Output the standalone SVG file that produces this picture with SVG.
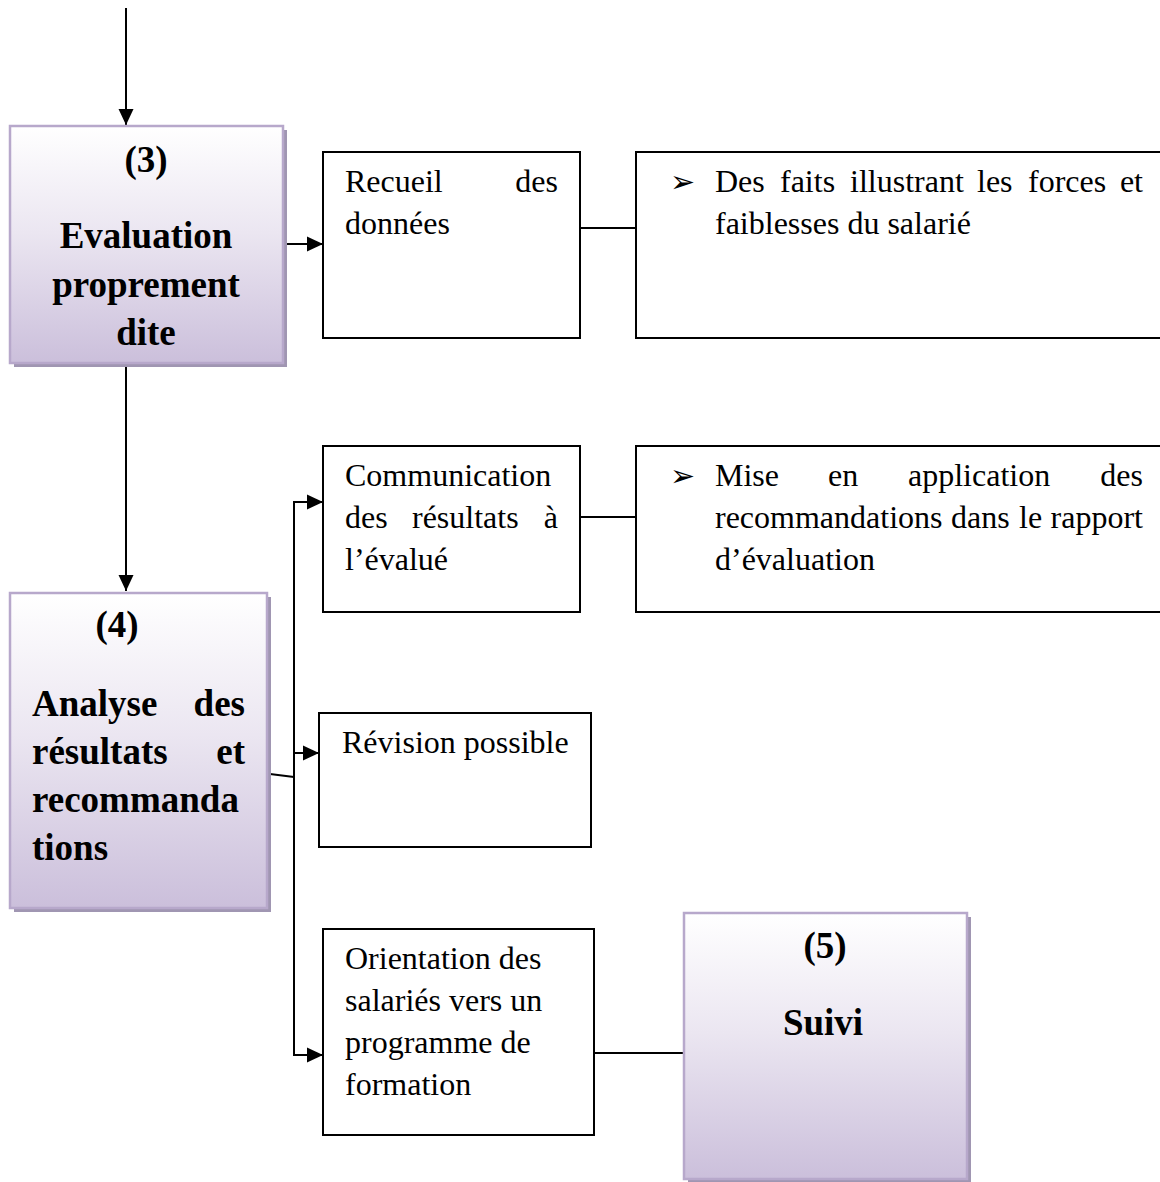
<svg xmlns="http://www.w3.org/2000/svg" width="1160" height="1182" viewBox="0 0 1160 1182">
<style>
.reg{font-family:"Liberation Serif","Times New Roman",serif;font-size:32px;fill:#000}
.bold{font-family:"Liberation Serif","Times New Roman",serif;font-size:37px;font-weight:bold;fill:#000}
.bul{font-family:"DejaVu Sans",sans-serif;font-size:30px;fill:#000}
.box{fill:#fff;stroke:#000;stroke-width:2}
.pbox{fill:url(#pg);stroke:#b7a8cb;stroke-width:2.5}
.shadow{fill:#a096b2}
.con{fill:none;stroke:#000;stroke-width:2}
.arr{fill:none;stroke:#000;stroke-width:2;marker-end:url(#ah)}
</style>
<defs>
<linearGradient id="pg" x1="0" y1="0" x2="0" y2="1">
<stop offset="0" stop-color="#ffffff"/>
<stop offset="0.45" stop-color="#ebe6f1"/>
<stop offset="1" stop-color="#cbbfdb"/>
</linearGradient>
<marker id="ah" markerUnits="userSpaceOnUse" viewBox="0 0 18 18" markerWidth="18" markerHeight="18" refX="17" refY="9" orient="auto" overflow="visible">
<path d="M1,1.5 L17,9 L1,16.5 Z" fill="#000"/>
</marker>
</defs>
<rect width="1160" height="1182" fill="#fff"/>

<g id="connectors">
<line class="arr" x1="126" y1="8" x2="126" y2="125"/>
<line class="arr" x1="126" y1="367" x2="126" y2="591"/>
<line class="arr" x1="286" y1="244" x2="323" y2="244"/>
<line class="con" x1="580" y1="228" x2="636" y2="228"/>
<line class="con" x1="580" y1="517" x2="636" y2="517"/>
<line class="con" x1="270" y1="774" x2="294" y2="777"/>
<line class="con" x1="294" y1="501" x2="294" y2="1056"/>
<line class="arr" x1="293" y1="502" x2="323" y2="502"/>
<line class="arr" x1="293" y1="753" x2="319" y2="753"/>
<line class="arr" x1="293" y1="1055" x2="323" y2="1055"/>
<line class="con" x1="594" y1="1053" x2="684" y2="1053"/>
</g>

<g id="node-evaluation">
<rect class="shadow" x="14" y="130" width="273" height="237"/>
<rect class="pbox" x="10" y="126" width="273" height="237"/>
<text class="bold" x="146" y="172" text-anchor="middle">(3)</text>
<text class="bold" x="146" y="248" text-anchor="middle">Evaluation</text>
<text class="bold" x="146" y="297" text-anchor="middle">proprement</text>
<text class="bold" x="146" y="345" text-anchor="middle">dite</text>
</g>

<g id="node-analyse">
<rect class="shadow" x="14" y="597" width="257" height="315"/>
<rect class="pbox" x="10" y="593" width="257" height="315"/>
<text class="bold" x="117" y="637" text-anchor="middle">(4)</text>
<text class="bold" x="32" y="716">Analyse</text>
<text class="bold" x="245" y="716" text-anchor="end">des</text>
<text class="bold" x="32" y="764">résultats</text>
<text class="bold" x="245" y="764" text-anchor="end">et</text>
<text class="bold" x="32" y="812">recommanda</text>
<text class="bold" x="32" y="860">tions</text>
</g>

<g id="node-suivi">
<rect class="shadow" x="688" y="917" width="283" height="270"/>
<rect class="pbox" x="684" y="913" width="283" height="266"/>
<text class="bold" x="825" y="958" text-anchor="middle">(5)</text>
<text class="bold" x="823" y="1035" text-anchor="middle">Suivi</text>
</g>

<g id="node-recueil">
<rect class="box" x="323" y="152" width="257" height="186"/>
<text class="reg" x="345" y="192">Recueil</text>
<text class="reg" x="558" y="192" text-anchor="end">des</text>
<text class="reg" x="345" y="234">données</text>
</g>

<g id="node-faits">
<rect class="box" x="636" y="152" width="540" height="186"/>
<text class="bul" x="670" y="192">➢</text>
<text class="reg" y="192"><tspan x="715">Des</tspan><tspan x="780">faits</tspan><tspan x="850">illustrant</tspan><tspan x="977">les</tspan><tspan x="1028">forces</tspan></text>
<text class="reg" x="1143" y="192" text-anchor="end">et</text>
<text class="reg" x="715" y="234">faiblesses du salarié</text>
</g>

<g id="node-communication">
<rect class="box" x="323" y="446" width="257" height="166"/>
<text class="reg" x="345" y="486">Communication</text>
<text class="reg" y="528"><tspan x="345">des</tspan><tspan x="412">résultats</tspan></text>
<text class="reg" x="558" y="528" text-anchor="end">à</text>
<text class="reg" x="345" y="570">l’évalué</text>
</g>

<g id="node-mise">
<rect class="box" x="636" y="446" width="540" height="166"/>
<text class="bul" x="670" y="486">➢</text>
<text class="reg" y="486"><tspan x="715">Mise</tspan><tspan x="828">en</tspan><tspan x="908">application</tspan></text>
<text class="reg" x="1143" y="486" text-anchor="end">des</text>
<text class="reg" y="528"><tspan x="715">recommandations</tspan><tspan x="951">dans</tspan><tspan x="1019">le</tspan></text>
<text class="reg" x="1143" y="528" text-anchor="end">rapport</text>
<text class="reg" x="715" y="570">d’évaluation</text>
</g>

<g id="node-revision">
<rect class="box" x="319" y="713" width="272" height="134"/>
<text class="reg" x="342" y="753">Révision possible</text>
</g>

<g id="node-orientation">
<rect class="box" x="323" y="929" width="271" height="206"/>
<text class="reg" x="345" y="969">Orientation des</text>
<text class="reg" x="345" y="1011">salariés vers un</text>
<text class="reg" x="345" y="1053">programme de</text>
<text class="reg" x="345" y="1095">formation</text>
</g>
</svg>
